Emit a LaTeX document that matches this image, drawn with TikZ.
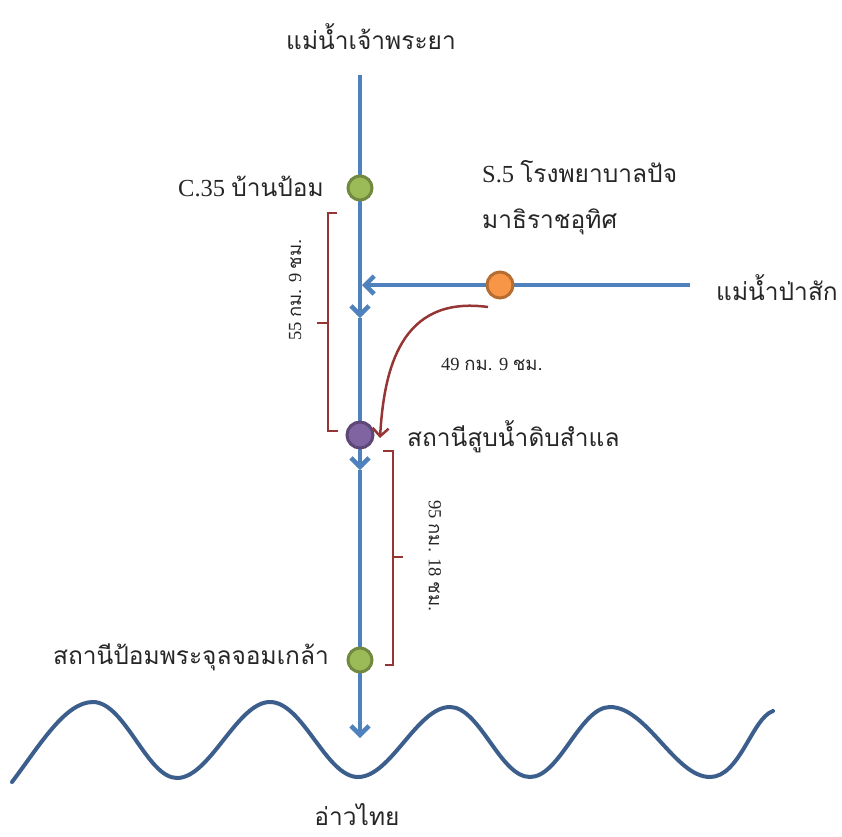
\documentclass[tikz,border=0pt]{standalone}
\usepackage{fontspec}
\setmainfont{Liberation Serif}
\newfontfamily\thai[Script=Thai]{Loma}
\usetikzlibrary{arrows.meta}
\definecolor{riverblue}{RGB}{79,129,189}
\definecolor{seablue}{RGB}{60,94,140}
\definecolor{brk}{RGB}{150,54,52}
\definecolor{gfill}{RGB}{155,187,89}
\definecolor{gdraw}{RGB}{113,137,63}
\definecolor{ofill}{RGB}{247,150,70}
\definecolor{odraw}{RGB}{182,109,49}
\definecolor{pfill}{RGB}{128,100,162}
\definecolor{pdraw}{RGB}{92,71,118}
\tikzset{
  river/.style={draw=riverblue, line width=4.5pt},
  riverarrow/.style={river, -{Straight Barb[length=9pt,width=18pt,line width=4.5pt]}},
  bracketline/.style={draw=brk, line width=2.5pt},
  station/.style={circle, minimum size=24pt, inner sep=0pt, line width=3pt},
  lbl/.style={font=\fontsize{24.5}{28}\selectfont, inner sep=0pt, text=black!85},
  small/.style={font=\fontsize{18.5}{21}\selectfont, inner sep=0pt, text=black!85},
}
\begin{document}
\begin{tikzpicture}[x=1pt,y=-1pt]
\useasboundingbox (0,0) rectangle (842,836);
% coordinates
\coordinate (top) at (360,75);
\coordinate (m1) at (360,318);
\coordinate (m2) at (360,470);
\coordinate (bottom) at (360,738);
\coordinate (east) at (690,285);
\coordinate (junction) at (362,285);
% rivers
\draw[river] (top) -- (360,188);
\draw[riverarrow] (360,188) -- (m1);
\draw[river] (m1) -- (360,435);
\draw[riverarrow] (360,435) -- (m2);
\draw[river] (m2) -- (360,660);
\draw[riverarrow] (360,660) -- (bottom);
\draw[riverarrow] (east) -- (junction);
% stations
\node[station, fill=gfill, draw=gdraw] (c35) at (360,188) {};
\node[station, fill=ofill, draw=odraw, minimum size=26pt] (s5) at (500,285) {};
\node[station, fill=pfill, draw=pdraw, minimum size=26pt] (samlae) at (360,435) {};
\node[station, fill=gfill, draw=gdraw] (pom) at (360,660) {};
% sea wave
\draw[draw=seablue, line width=4pt, line cap=round]
  (12,782) .. controls (40,745) and (65,702) .. (93,702)
  .. controls (125,702) and (147,778) .. (177,778)
  .. controls (210,778) and (237,702) .. (270,702)
  .. controls (303,702) and (326,777) .. (358,777)
  .. controls (391,777) and (417,707) .. (450,707)
  .. controls (480,707) and (500,777) .. (530,777)
  .. controls (560,777) and (580,707) .. (610,707)
  .. controls (647,707) and (675,777) .. (710,777)
  .. controls (740,777) and (752,718) .. (773,711);
% brackets
\draw[bracketline] (337,213) -- (328,213) -- (328,431) -- (338,431);
\draw[bracketline] (328,323) -- (317,323);
\draw[bracketline] (383,451) -- (393,451) -- (393,665) -- (385,665);
\draw[bracketline] (393,557) -- (403,557);
% curved travel arrow
\coordinate (cstart) at (488,307);
\coordinate (cend) at (380,438);
\draw[draw=brk, line width=2.5pt, -{Straight Barb[length=8pt,width=16pt,line width=2.5pt]}]
  (cstart) .. controls (400,295) and (384,370) .. (cend);
% labels
\node[lbl] (tchao) at (371,37) {\thai แม่น้ำเจ้าพระยา};
\node[lbl, anchor=east] (tc35) at (324,186) {C.35 {\thai บ้านป้อม}};
\node[lbl, anchor=west] (ts5a) at (482,172) {S.5 {\thai โรงพยาบาลปัจ}};
\node[lbl, anchor=west] (ts5b) at (482,222) {\thai มาธิราชอุทิศ};
\node[lbl, anchor=west] (tpasak) at (716,288) {\thai แม่น้ำป่าสัก};
\node[small] (t49) at (492,364) {49 {\thai กม.} 9 {\thai ชม.}};
\node[small, rotate=90] (t55) at (295,290) {55 {\thai กม.} 9 {\thai ชม.}};
\node[lbl, anchor=west] (tsamlae) at (407,437) {\thai สถานีสูบน้ำดิบสำแล};
\node[small, rotate=-90] (t95) at (435,556) {95 {\thai กม.} 18 {\thai ชม.}};
\node[lbl, anchor=east] (tpom) at (329,657) {\thai สถานีป้อมพระจุลจอมเกล้า};
\node[lbl] (tgulf) at (357,815) {\thai อ่าวไทย};
\end{tikzpicture}
\end{document}
